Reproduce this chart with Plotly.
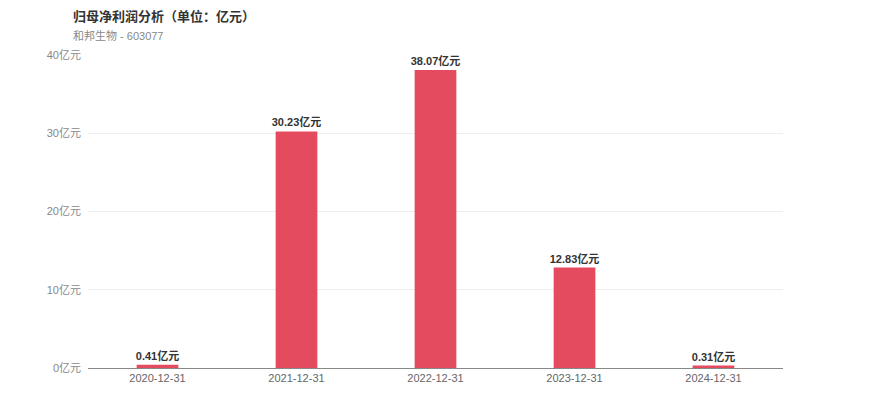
import plotly.graph_objects as go

categories = ["2020-12-31", "2021-12-31", "2022-12-31", "2023-12-31", "2024-12-31"]
values = [0.41, 30.23, 38.07, 12.83, 0.31]
tick_vals = [0, 10, 20, 30, 40]
tick_text = ["0亿元", "10亿元", "20亿元", "30亿元", "40亿元"]
title_text = "归母净利润分析（单位：亿元）"
subtitle_text = "和邦生物 - 603077"

font_family = "Liberation Sans, Noto Sans CJK SC, sans-serif"

# page body has an 8px default margin; compensate in layout margins
L, T, PW, PH = 80, 47, 695, 313

fig = go.Figure()
fig.add_trace(go.Bar(
    x=categories, y=values,
    marker=dict(color="#e54b5e", line=dict(width=0)),
    width=0.3,
    text=[f"<b>{v:.2f}亿元</b>" for v in values],
    textposition="outside",
    constraintext="none",
    textfont=dict(size=11, color="#333333", family=font_family),
    cliponaxis=False,
))

fig.update_layout(
    width=870, height=417,
    margin=dict(l=L, r=870 - L - PW, t=T, b=417 - T - PH),
    paper_bgcolor="white", plot_bgcolor="white",
    showlegend=False,
    font=dict(family=font_family),
    xaxis=dict(
        type="category",
        showline=True, linecolor="#888888", linewidth=1,
        ticks="", showgrid=False,
        tickfont=dict(size=11, color="#666666"),
    ),
    yaxis=dict(
        range=[0, 40],
        tickvals=tick_vals, ticktext=tick_text,
        showgrid=True, gridcolor="#eeeeee", gridwidth=1,
        zeroline=False, showline=False,
        tickfont=dict(size=11, color="#888888"),
        ticklabelstandoff=6,
    ),
)
fig.add_annotation(text="<b>" + title_text + "</b>", xref="paper", yref="paper",
                   x=-17 / PW, y=1 + (T - 9) / PH, xanchor="left", yanchor="middle",
                   showarrow=False, font=dict(size=13, color="#333333"))
fig.add_annotation(text=subtitle_text, xref="paper", yref="paper",
                   x=-17 / PW, y=1 + (T - 27) / PH, xanchor="left", yanchor="middle",
                   showarrow=False, font=dict(size=11, color="#888888"))

fig.write_html("out.html")
